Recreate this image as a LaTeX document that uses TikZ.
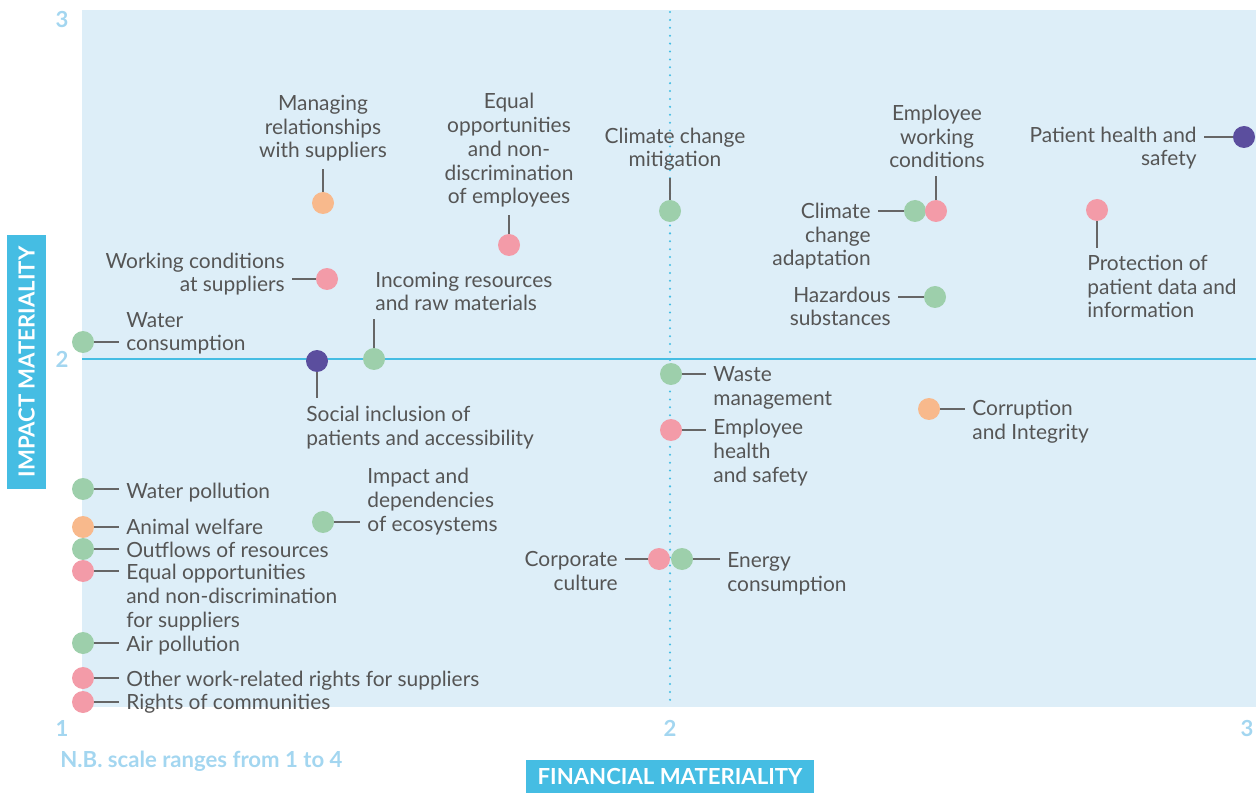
\documentclass[tikz,border=0pt]{standalone}
\usepackage{fontspec}
\setmainfont{Lato}
\definecolor{bgblue}{RGB}{221,238,248}
\definecolor{axisblue}{RGB}{69,189,227}
\definecolor{ticktext}{RGB}{163,214,240}
\definecolor{envgreen}{RGB}{157,207,171}
\definecolor{socpink}{RGB}{243,155,168}
\definecolor{govorange}{RGB}{248,185,140}
\definecolor{patpurple}{RGB}{91,78,158}
\definecolor{labeltext}{RGB}{85,85,85}
\definecolor{linkgray}{RGB}{102,102,102}

\begin{document}
\begin{tikzpicture}[%
      x=0.02cm, y=-0.02cm,
      every node/.style={font=\fontsize{11.9}{13.6}\selectfont, inner sep=0pt},
      topic/.style={circle, minimum size=0.44cm, inner sep=0pt},
      lbl/.style={text=labeltext},
      link/.style={draw=linkgray, line width=0.7pt, shorten >=0.14cm},
      tick/.style={text=ticktext, font=\fontsize{12.6}{14}\selectfont\bfseries},
      axisbox/.style={fill=axisblue, text=white, font=\fontsize{12.6}{14}\selectfont\bfseries},
      ]
      \useasboundingbox (0,0) rectangle (1256,793);
      \fill [bgblue] (82,10) rectangle (1256,707);
      \draw [axisblue, line width=1.6pt] (82,359) -- (1256,359);
      \draw [axisblue, line width=1.3pt, line cap=round, dash pattern=on 0pt off 4.5pt] (670,12) -- (670,706);

      % scale
      \node [tick] (y3) at (62,20) {3};
      \node [tick] (y2) at (62,359) {2};
      \node [tick] (x1) at (62,728) {1};
      \node [tick] (x2) at (670,728) {2};
      \node [tick] (x3) at (1247,728) {3};
      \node [tick, anchor=base west] (nb) at (60,767) {N.B. scale ranges from 1 to 4};
      \node [axisbox, minimum width=5.76cm, minimum height=0.66cm] (fin) at (670,776.5) {FINANCIAL MATERIALITY};
      \node [axisbox, minimum width=5.08cm, minimum height=0.78cm, rotate=90] (imp) at (26.5,362) {IMPACT MATERIALITY};

      % upper left
      \node [topic, fill=govorange] (msup) at (323,203) {};
      \node [lbl, anchor=base, align=center] (msupl) at (323,158) {Managing\\relationships\\with suppliers};
      \draw [link] (msup.north) -- (msup.north |- msupl.south);

      \node [topic, fill=socpink] (eqemp) at (509,245) {};
      \node [lbl, anchor=base, align=center] (eqempl) at (509,204) {Equal\\opportunities\\and non-\\discrimination\\of employees};
      \draw [link] (eqemp.north) -- (eqemp.north |- eqempl.south);

      \node [topic, fill=socpink] (wcsup) at (327,279) {};
      \node [lbl, anchor=base east, align=right] (wcsupl) at (285,292) {Working conditions\\at suppliers};
      \draw [link] (wcsup.west) -- (wcsup.west -| wcsupl.east);

      \node [topic, fill=envgreen] (wcons) at (83,342) {};
      \node [lbl, anchor=base west, align=left] (wconsl) at (126,351) {Water\\consumption};
      \draw [link] (wcons.east) -- (wcons.east -| wconsl.west);

      \node [topic, fill=envgreen] (incres) at (374,359) {};
      \node [lbl, anchor=base west, align=left] (incresl) at (375,311) {Incoming resources\\and raw materials};
      \draw [link] (incres.north) -- (incres.north |- incresl.south);

      \node [topic, fill=patpurple] (socinc) at (317,361) {};
      \node [lbl, anchor=base west, align=left] (socincl) at (306,445) {Social inclusion of\\patients and accessibility};
      \draw [link] (socinc.south) -- (socinc.south |- socincl.north);

      % upper right
      \node [topic, fill=envgreen] (ccmit) at (670,211) {};
      \node [lbl, anchor=base, align=center] (ccmitl) at (675,167) {Climate change\\mitigation};
      \draw [link] (ccmit.north) -- (ccmit.north |- ccmitl.south);

      \node [topic, fill=envgreen] (ccadp) at (915,211) {};
      \node [lbl, anchor=base east, align=right] (ccadpl) at (871,266) {Climate\\change\\adaptation};
      \draw [link] (ccadp.west) -- (ccadp.west -| ccadpl.east);

      \node [topic, fill=socpink] (empwc) at (936,211) {};
      \node [lbl, anchor=base, align=center] (empwcl) at (937,168) {Employee\\working\\conditions};
      \draw [link] (empwc.north) -- (empwc.north |- empwcl.south);

      \node [topic, fill=envgreen] (hazsub) at (935,297) {};
      \node [lbl, anchor=base east, align=right] (hazsubl) at (891,326) {Hazardous\\substances};
      \draw [link] (hazsub.west) -- (hazsub.west -| hazsubl.east);

      \node [topic, fill=patpurple] (paths) at (1244,137) {};
      \node [lbl, anchor=base east, align=right] (pathsl) at (1197,166) {Patient health and\\safety};
      \draw [link] (paths.west) -- (paths.west -| pathsl.east);

      \node [topic, fill=socpink] (patdat) at (1097,210) {};
      \node [lbl, anchor=base west, align=left] (patdatl) at (1087,318) {Protection of\\patient data and\\information};
      \draw [link] (patdat.south) -- (patdat.south |- patdatl.north);

      % lower right
      \node [topic, fill=envgreen] (waste) at (671,374) {};
      \node [lbl, anchor=base west, align=left] (wastel) at (713,405) {Waste\\management};
      \draw [link] (waste.east) -- (waste.east -| wastel.west);

      \node [topic, fill=socpink] (emphs) at (671,430) {};
      \node [lbl, anchor=base west, align=left] (emphsl) at (713,482) {Employee\\health\\and safety};
      \draw [link] (emphs.east) -- (emphs.east -| emphsl.west);

      \node [topic, fill=govorange] (corr) at (929,409) {};
      \node [lbl, anchor=base west, align=left] (corrl) at (972,439) {Corruption\\and Integrity};
      \draw [link] (corr.east) -- (corr.east -| corrl.west);

      \node [topic, fill=socpink] (corpc) at (659,559) {};
      \node [lbl, anchor=base east, align=right] (corpcl) at (618,590) {Corporate\\culture};
      \draw [link] (corpc.west) -- (corpc.west -| corpcl.east);

      \node [topic, fill=envgreen] (energy) at (682,559) {};
      \node [lbl, anchor=base west, align=left] (energyl) at (727,591) {Energy\\consumption};
      \draw [link] (energy.east) -- (energy.east -| energyl.west);

      % lower left
      \node [topic, fill=envgreen] (ecosys) at (323,522) {};
      \node [lbl, anchor=base west, align=left] (ecosysl) at (367,531) {Impact and\\dependencies\\of ecosystems};
      \draw [link] (ecosys.east) -- (ecosys.east -| ecosysl.west);

      \node [topic, fill=envgreen] (wpol) at (83,489) {};
      \node [lbl, anchor=base west] (wpoll) at (126,498) {Water pollution};
      \draw [link] (wpol.east) -- (wpol.east -| wpoll.west);

      \node [topic, fill=govorange] (animal) at (83,527) {};
      \node [lbl, anchor=base west] (animall) at (126,534) {Animal welfare};
      \draw [link] (animal.east) -- (animal.east -| animall.west);

      \node [topic, fill=envgreen] (outfl) at (83,549) {};
      \node [lbl, anchor=base west] (outfll) at (126,557) {Outflows of resources};
      \draw [link] (outfl.east) -- (outfl.east -| outfll.west);

      \node [topic, fill=socpink] (eqsup) at (83,571) {};
      \node [lbl, anchor=base west, align=left] (eqsupl) at (126,627) {Equal opportunities\\and non-discrimination\\for suppliers};
      \draw [link] (eqsup.east) -- (eqsup.east -| eqsupl.west);

      \node [topic, fill=envgreen] (airpol) at (83,643) {};
      \node [lbl, anchor=base west] (airpoll) at (126,651) {Air pollution};
      \draw [link] (airpol.east) -- (airpol.east -| airpoll.west);

      \node [topic, fill=socpink] (owrr) at (83,678) {};
      \node [lbl, anchor=base west] (owrrl) at (126,686) {Other work-related rights for suppliers};
      \draw [link] (owrr.east) -- (owrr.east -| owrrl.west);

      \node [topic, fill=socpink] (rcomm) at (83,702) {};
      \node [lbl, anchor=base west] (rcomml) at (126,709) {Rights of communities};
      \draw [link] (rcomm.east) -- (rcomm.east -| rcomml.west);
\end{tikzpicture}
\end{document}
